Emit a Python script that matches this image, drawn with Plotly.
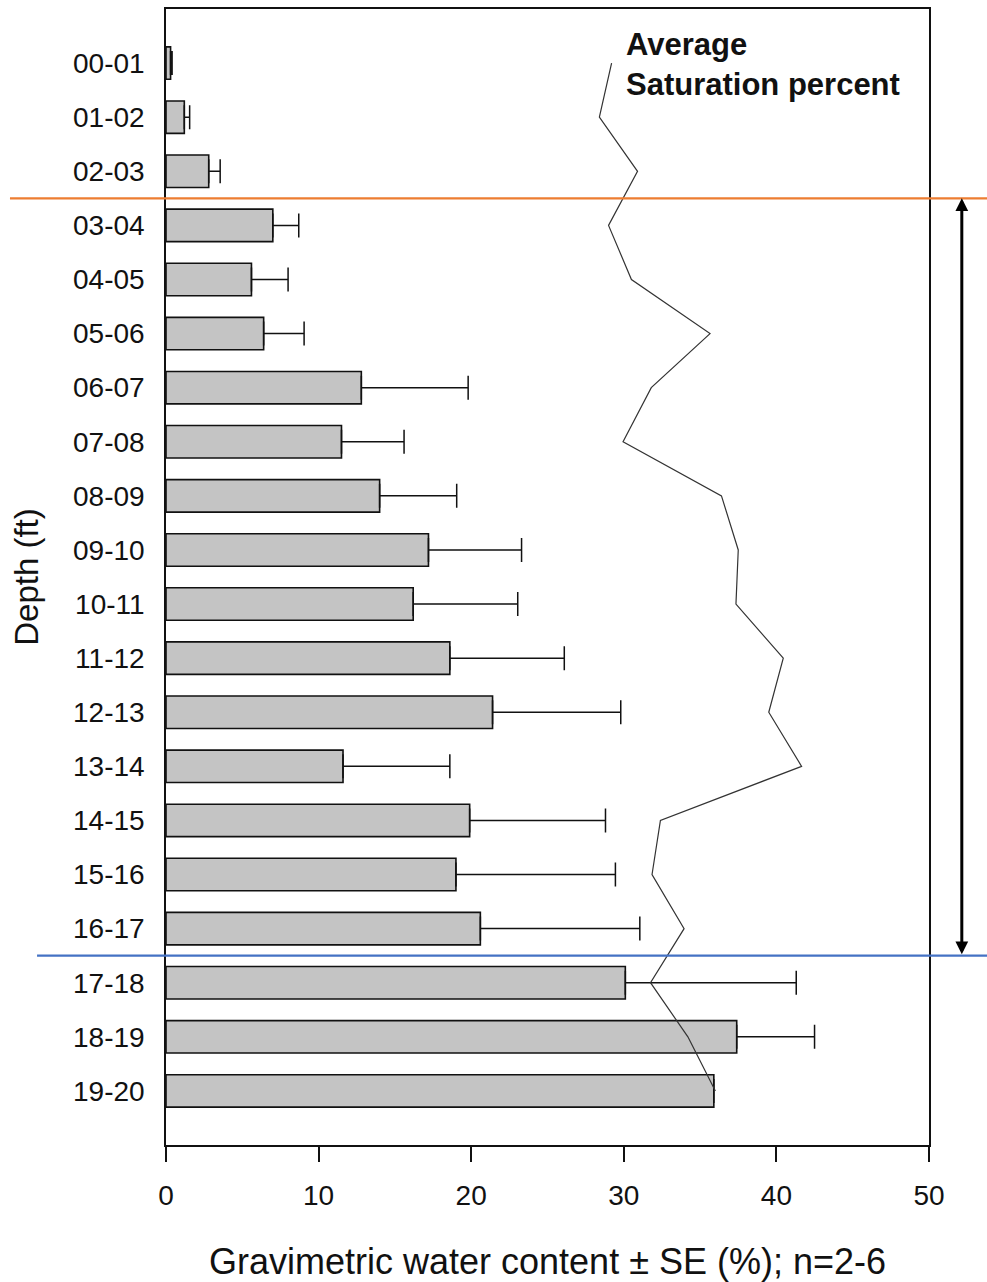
import plotly.graph_objects as go

# ---- data ----
depths = ["00-01", "01-02", "02-03", "03-04", "04-05", "05-06", "06-07", "07-08",
          "08-09", "09-10", "10-11", "11-12", "12-13", "13-14", "14-15", "15-16",
          "16-17", "17-18", "18-19", "19-20"]
water_content = [0.3, 1.2, 2.8, 7.0, 5.6, 6.4, 12.8, 11.5, 14.0, 17.2,
                 16.2, 18.6, 21.4, 11.6, 19.9, 19.0, 20.6, 30.1, 37.4, 35.9]
water_se = [0.1, 0.35, 0.75, 1.7, 2.4, 2.65, 7.0, 4.1, 5.05, 6.1,
            6.85, 7.5, 8.4, 7.0, 8.9, 10.45, 10.45, 11.2, 5.1, 0.0]
saturation = [29.2, 28.4, 30.9, 29.0, 30.5, 35.65, 31.8, 29.95, 36.4, 37.5,
              37.35, 40.45, 39.5, 41.65, 32.4, 31.85, 33.95, 31.75, 34.2, 36.0]
x_ticks = [0, 10, 20, 30, 40, 50]

FONT = "Liberation Sans, Arial, sans-serif"

fig = go.Figure()

fig.add_trace(go.Bar(
    y=depths, x=water_content, orientation="h", width=0.6,
    marker=dict(color="#c4c4c4", line=dict(color="#111111", width=1.6)),
    error_x=dict(type="data", array=water_se, arrayminus=[0] * len(water_se),
                 symmetric=False, color="#111111", thickness=1.5, width=12),
    showlegend=False, hoverinfo="skip",
))

fig.add_trace(go.Scatter(
    y=depths, x=saturation, mode="lines",
    line=dict(color="#333333", width=1.2),
    showlegend=False, hoverinfo="skip",
))

# horizontal boundary lines (extend beyond the plotting area)
fig.add_shape(type="line", xref="paper", yref="y", x0=-0.2045, x1=1.08,
              y0=2.5, y1=2.5, line=dict(color="#ED7D31", width=2.2))
fig.add_shape(type="line", xref="paper", yref="y", x0=-0.169, x1=1.08,
              y0=16.5, y1=16.5, line=dict(color="#4472C4", width=2.2))

# double headed arrow between the lines
fig.add_annotation(x=1.043, y=2.5, ax=0, ay=16.5, xref="paper", yref="y",
                   axref="pixel", ayref="y", text="", showarrow=True,
                   arrowhead=2, startarrowhead=2, arrowside="end+start",
                   arrowwidth=3, arrowsize=0.85, startarrowsize=0.85,
                   arrowcolor="#000000")

fig.add_annotation(x=30.0, y=0.9855, xref="x", yref="paper",
                   xanchor="left", yanchor="top", align="left",
                   text="<b>Average<br>Saturation percent</b>", showarrow=False,
                   font=dict(family=FONT, size=31, color="#111111"))

fig.update_layout(
    width=987, height=1282,
    margin=dict(l=166, r=58, t=7, b=135),
    paper_bgcolor="white", plot_bgcolor="white",
    font=dict(family=FONT, color="#111111"),
    bargap=0.4,
)

fig.update_xaxes(
    range=[0, 50], tickvals=x_ticks, ticktext=[str(v) for v in x_ticks],
    ticks="outside", ticklen=15, tickwidth=1.5, tickcolor="#111111",
    showline=True, linecolor="#111111", linewidth=1.5, mirror=True,
    showgrid=False, zeroline=False, ticklabelstandoff=10,
    tickfont=dict(family=FONT, size=28, color="#111111"),
    title=dict(text="Gravimetric water content ± SE (%); n=2-6",
               font=dict(family=FONT, size=36, color="#111111"), standoff=38),
)

fig.update_yaxes(
    type="category", categoryorder="array", categoryarray=depths,
    range=[20, -1], showline=True, linecolor="#111111", linewidth=1.5,
    mirror=True, showgrid=False, zeroline=False, ticks="",
    ticklabelstandoff=14,
    tickfont=dict(family=FONT, size=28, color="#111111"),
    title=dict(text="Depth (ft)", font=dict(family=FONT, size=33, color="#111111"),
               standoff=24),
)

fig.write_html("out.html")
